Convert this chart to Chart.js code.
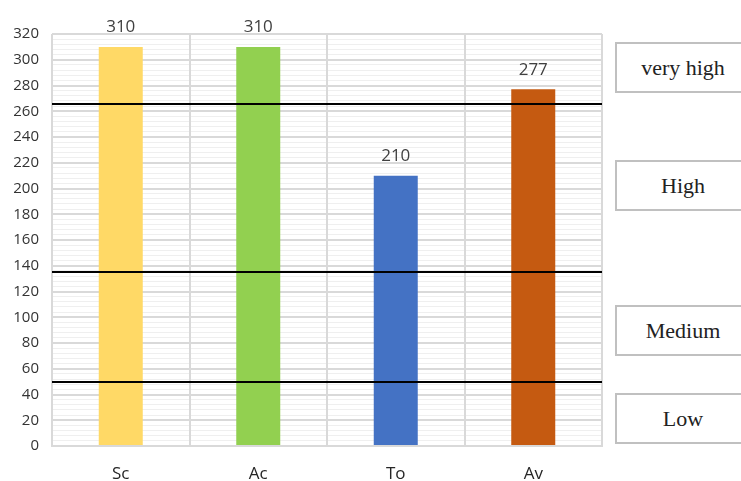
<!DOCTYPE html>
<html>
<head>
<meta charset="utf-8">
<script src="https://cdn.jsdelivr.net/npm/chart.js@4.4.1/dist/chart.umd.min.js"></script>
<style>
  body { margin: 0; background: #fff; overflow: hidden; }
  #wrap { position: relative; width: 741px; height: 481px; }
  .lvl {
    position: absolute; left: 615px; width: 136px;
    box-sizing: border-box; border: 2px solid #c0c0c0; background: #fff;
    font-family: "Liberation Serif", serif; font-size: 22px; color: #222;
    display: flex; align-items: center; justify-content: center;
  }
</style>
</head>
<body>
<div id="wrap">
  <canvas id="c" width="741" height="481"></canvas>
</div>
<script>
// data
const categories = ['Sc', 'Ac', 'To', 'Av'];
const scores = [310, 310, 210, 277];
const barColors = ['#FFD966', '#92D050', '#4472C4', '#C55A11'];
const yTicksMax = 320;
// level cut lines and the boxes on the right
const levelLines = [266, 135, 50];
const levelNames = ['very high', 'High', 'Medium', 'Low'];
const levelBoxTops = [42, 160, 305, 393];

// boxes (plain html, not part of chart)
const wrap = document.getElementById('wrap');
levelNames.forEach((name, i) => {
    const d = document.createElement('div');
    d.className = 'lvl';
    d.style.top = levelBoxTops[i] + 'px';
    d.style.height = '51px';
    d.textContent = name;
    wrap.appendChild(d);
});

// black lines + numbers above bars
const extras = {
    id: 'extras',
    afterDatasetsDraw(chart) {
        const ctx = chart.ctx;
        const y = chart.scales.y;
        const area = chart.chartArea;
        ctx.save();
        ctx.strokeStyle = '#000';
        ctx.lineWidth = 2;
        levelLines.forEach(v => {
            const py = Math.round(y.getPixelForValue(v));
            ctx.beginPath();
            ctx.moveTo(area.left, py);
            ctx.lineTo(area.right, py);
            ctx.stroke();
        });
        ctx.fillStyle = '#404040';
        ctx.font = '17px "Open Sans", sans-serif';
        ctx.textAlign = 'center';
        ctx.textBaseline = 'bottom';
        chart.getDatasetMeta(0).data.forEach((bar, i) => {
            ctx.fillText(scores[i], bar.x, bar.y - 11);
        });
        ctx.restore();
    }
};

new Chart(document.getElementById('c'), {
    type: 'bar',
    data: {
        labels: categories,
        datasets: [{
            data: scores,
            backgroundColor: barColors,
            barPercentage: 0.32,
            categoryPercentage: 1
        }]
    },
    options: {
        responsive: false,
        animation: false,
        layout: { padding: { top: 34, right: 139, left: 0, bottom: 0 } },
        plugins: { legend: { display: false }, tooltip: { enabled: false } },
        scales: {
            x: {
                offset: true,
                grid: { offset: true, color: '#d9d9d9', lineWidth: 2, drawTicks: false },
                border: { color: '#d9d9d9', width: 2 },
                ticks: { color: '#262626', padding: 18, font: { family: 'Open Sans', size: 17 } },
                afterFit(s) { s.height = 35; }
            },
            y: {
                min: 0, max: yTicksMax,
                ticks: { stepSize: 20, color: '#333333', padding: 13, font: { family: 'Open Sans', size: 15 } },
                grid: { color: '#d9d9d9', lineWidth: 2, drawTicks: false },
                border: { display: false },
                afterFit(s) { s.width = 52; }
            },
            yMinor: {
                position: 'left',
                min: 0, max: yTicksMax,
                ticks: { display: false, stepSize: 4 },
                grid: { color: '#efefef', lineWidth: 1, drawTicks: false, z: -2 },
                border: { display: false },
                afterFit(s) { s.width = 0; }
            }
        }
    },
    plugins: [extras]
});
</script>
</body>
</html>
